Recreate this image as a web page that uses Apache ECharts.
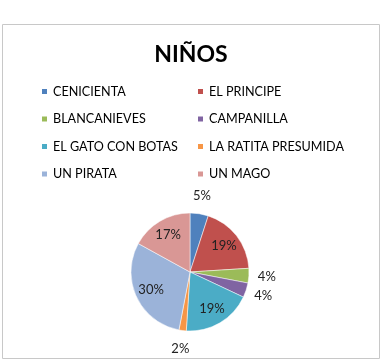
<!DOCTYPE html>
<html>
<head>
<meta charset="utf-8">
<script src="https://cdn.jsdelivr.net/npm/echarts@6/dist/echarts.min.js"></script>
<style>
  html, body { margin: 0; padding: 0; background: #fff; }
  #chart { width: 382px; height: 362px; }
</style>
</head>
<body>
<div id="chart"></div>
<script>
// datos del gráfico
const categories = ['CENICIENTA', 'EL PRINCIPE', 'BLANCANIEVES', 'CAMPANILLA',
  'EL GATO CON BOTAS', 'LA RATITA PRESUMIDA', 'UN PIRATA', 'UN MAGO']
const values = [5, 19, 4, 4, 19, 2, 30, 17]
const colors = ['#4F81BD', '#C0504D', '#9BBB59', '#8064A2',
  '#4BACC6', '#F79646', '#9BB3D9', '#D99795']
// porciones pequeñas: etiqueta fuera
const outsideLabel = [true, false, true, true, false, true, false, false]

const font = 'Lato, "Open Sans", sans-serif'
const center = [190, 272]

const chart = echarts.init(document.getElementById('chart'))

const labelStyle = {
  show: true,
  position: 'inside',
  formatter: '{c}%',
  fontFamily: font,
  fontSize: 13,
  color: '#222'
}

// series transparentes solo para colocar las etiquetas (como Excel)
const labelSeries = (radius, outside) => ({
  type: 'pie',
  center,
  radius,
  startAngle: 90,
  silent: true,
  itemStyle: { color: 'rgba(0,0,0,0)' },
  label: labelStyle,
  labelLine: { show: false },
  emphasis: { disabled: true },
  tooltip: { show: false },
  data: categories.map((name, i) => ({
    name,
    value: values[i],
    label: { show: outsideLabel[i] === outside }
  }))
})

const legendStyle = {
  orient: 'vertical',
  top: 80,
  itemGap: 14.5,
  itemWidth: 7,
  itemHeight: 7,
  icon: 'rect',
  textStyle: { fontFamily: font, fontSize: 12.6, color: '#000' }
}

const option = {
  animation: false,
  color: colors,
  graphic: [{
    type: 'rect',
    shape: { x: 2.5, y: 24.5, width: 377, height: 334 },
    style: { fill: 'none', stroke: '#c8c8c8', lineWidth: 1 },
    silent: true
  }],
  title: {
    text: 'NIÑOS',
    left: 'center',
    top: 38,
    textStyle: { fontFamily: font, fontSize: 23, fontWeight: 'bold', color: '#000' }
  },
  legend: [
    { ...legendStyle, left: 35, data: [categories[0], categories[2], categories[4], categories[6]] },
    { ...legendStyle, left: 191, data: [categories[1], categories[3], categories[5], categories[7]] }
  ],
  series: [
    {
      type: 'pie',
      center,
      radius: 59,
      startAngle: 90,
      clockwise: true,
      data: categories.map((name, i) => ({ name, value: values[i] })),
      itemStyle: { borderColor: '#fff', borderWidth: 0.5 },
      label: { show: false },
      labelLine: { show: false },
      emphasis: { disabled: true }
    },
    labelSeries([0, 80], false),
    labelSeries([60, 88], true)
  ]
}

chart.setOption(option)
</script>
</body>
</html>
